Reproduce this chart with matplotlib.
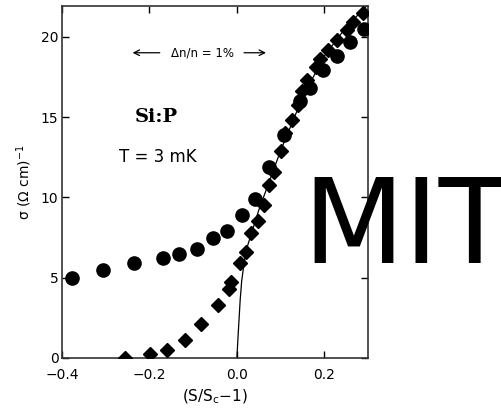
import matplotlib
matplotlib.use("Agg")
import matplotlib.pyplot as plt

# conductivity vs (S/Sc - 1), Si:P at 3 mK
circ_x = [-0.377, -0.307, -0.236, -0.170, -0.132, -0.091, -0.055, -0.023, 0.011,
          0.041, 0.073, 0.107, 0.145, 0.168, 0.198, 0.230, 0.259, 0.290]
circ_y = [5.0, 5.5, 5.9, 6.25, 6.5, 6.8, 7.45, 7.9, 8.9,
          9.9, 11.9, 13.9, 16.0, 16.8, 17.9, 18.8, 19.7, 20.5]

diam_x = [-0.257, -0.198, -0.159, -0.118, -0.082, -0.043, -0.018, -0.013, 0.007,
          0.020, 0.032, 0.048, 0.061, 0.073, 0.084, 0.100, 0.111, 0.127, 0.139,
          0.150, 0.160, 0.180, 0.190, 0.209, 0.230, 0.252, 0.266, 0.289]
diam_y = [0.0, 0.25, 0.5, 1.1, 2.1, 3.3, 4.3, 4.7, 5.9,
          6.6, 7.8, 8.5, 9.5, 10.75, 11.6, 12.9, 14.0, 14.8, 15.75,
          16.6, 17.3, 18.1, 18.6, 19.2, 19.8, 20.4, 20.9, 21.5]

# fitted curve
fit_x = [0.0, 0.003, 0.0075, 0.011, 0.02, 0.05, 0.1, 0.15, 0.2, 0.25, 0.3]
fit_y = [0.0, 1.5, 3.6, 4.8, 6.6, 9.2, 12.9, 16.2, 18.8, 20.6, 22.0]

xticks = [-0.4, -0.2, 0.0, 0.2]
xticklabels = ["\u22120.4", "\u22120.2", "0.0", "0.2"]
yticks = [0, 5, 10, 15, 20]

fig = plt.figure(figsize=(5.01, 4.11), dpi=100)
ax = fig.add_axes([0.1238, 0.129, 0.6108, 0.856])

ax.plot(fit_x, fit_y, color="black", lw=0.9, zorder=2)
ax.plot(circ_x, circ_y, "o", color="black", ms=9.5, zorder=3)
ax.plot(diam_x, diam_y, "D", color="black", ms=7.2, zorder=3)

ax.set_xlim(-0.4, 0.3)
ax.set_ylim(0, 21.9)
ax.set_xticks(xticks)
ax.set_xticklabels(xticklabels)
ax.set_yticks(yticks)
ax.tick_params(direction="in", length=5, width=1, labelsize=10,
               top=True, right=True, labeltop=False, labelright=False)
ax.tick_params(axis="x", pad=7)
ax.tick_params(axis="y", pad=2.5)
for s in ax.spines.values():
    s.set_linewidth(1.2)
    s.set_color("#333333")

ax.set_xlabel("(S/S$_\\mathrm{c}$\u22121)", fontsize=11, labelpad=4)
ax.set_ylabel("\u03c3 (\u03a9 cm)$^{-1}$", fontsize=10, labelpad=5)

# annotations
ax.text(-0.234, 15.0, "Si:P", fontsize=14, fontweight="bold",
        family="DejaVu Serif", ha="left", va="center")
ax.text(-0.27, 12.5, "T = 3 mK", fontsize=12, ha="left", va="center")
ax.text(-0.0795, 19.0, "\u0394n/n = 1%", fontsize=8.5, ha="center", va="center")
ax.annotate("", xy=(-0.245, 19.0), xytext=(-0.17, 19.0),
            arrowprops=dict(arrowstyle="->", lw=0.9))
ax.annotate("", xy=(0.073, 19.0), xytext=(0.01, 19.0),
            arrowprops=dict(arrowstyle="->", lw=0.9))

fig.text(0.604, 0.36, "MIT", fontsize=85, color="black",
         ha="left", va="baseline")

fig.savefig("out.png", dpi=100)
